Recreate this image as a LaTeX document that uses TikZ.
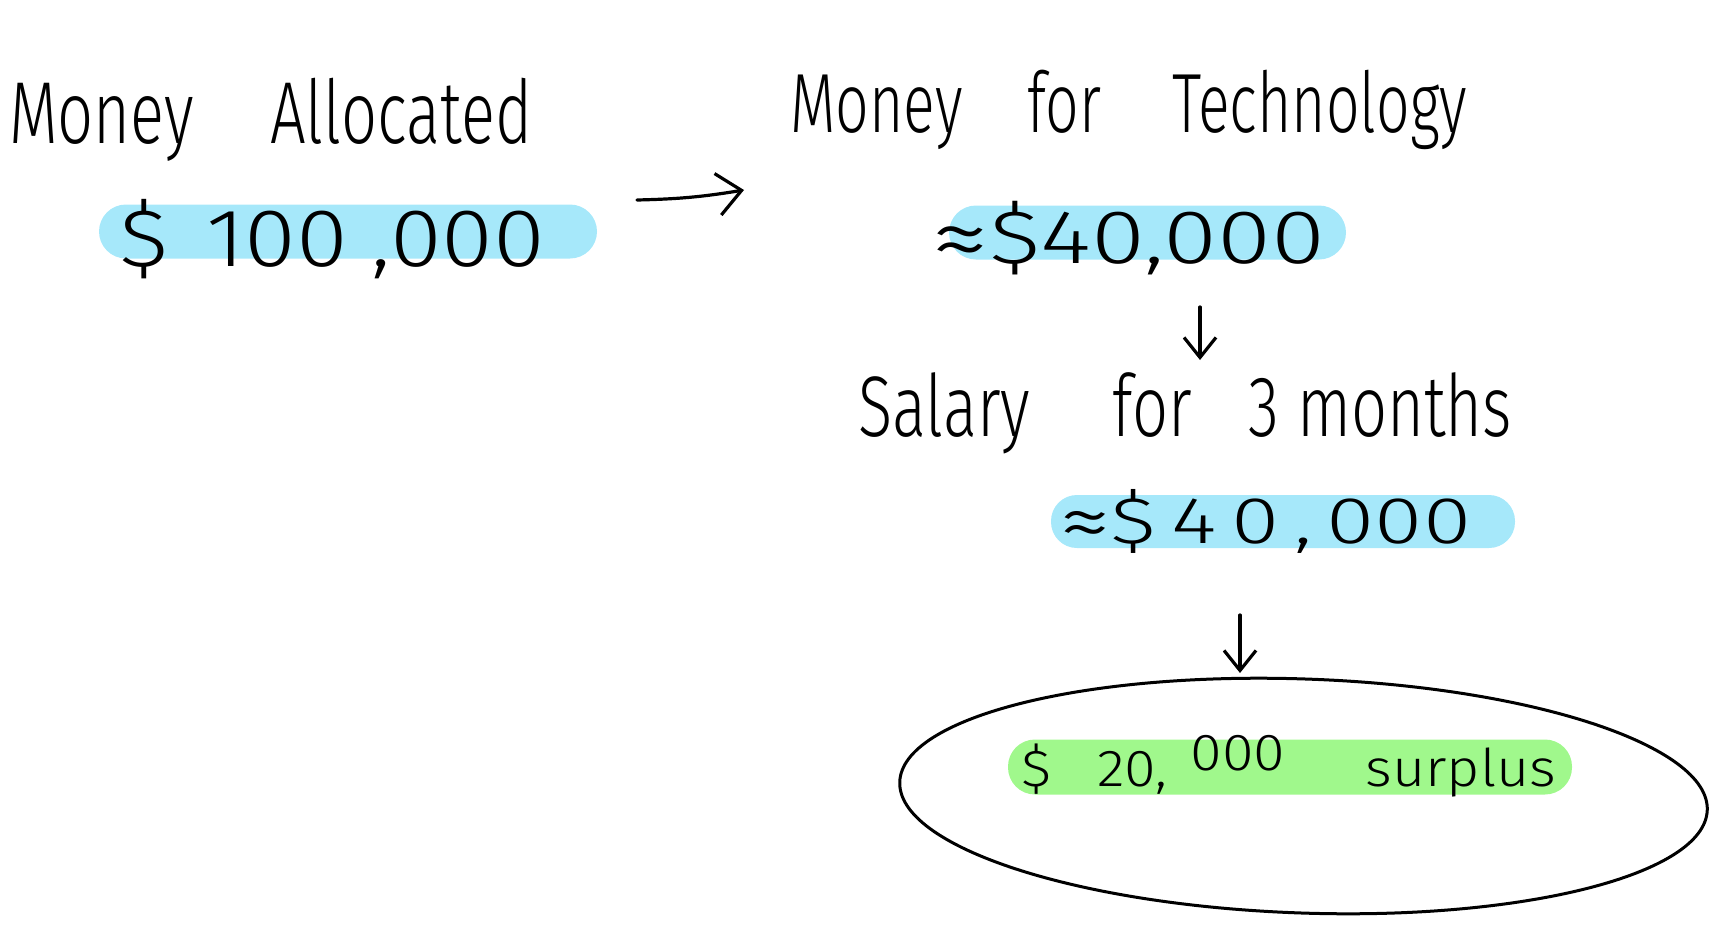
\documentclass[tikz,border=0pt]{standalone}
\usepackage{fontspec}
\setmainfont{Fira Sans}[UprightFont={* Light}]
\usetikzlibrary{arrows.meta,shapes.geometric}
\definecolor{barblue}{RGB}{166,232,250}
\definecolor{bargreen}{RGB}{160,248,140}
\newcommand{\fitw}[2]{\resizebox{#1pt}{\height}{#2}}
\newcommand{\apx}{\raisebox{-0.1em}{\scalebox{1.25}{≈}}}
\begin{document}
\begin{tikzpicture}[x=1pt,y=-1pt,
  bar/.style={rounded corners=27pt, inner sep=0pt, draw=none, minimum height=54pt},
  hand/.style={anchor=base west, inner sep=0pt, text=black},
  arr/.style={line width=3.2pt, line cap=round, line join=round,
    -{Straight Barb[length=20pt,width=32pt]}}]
\useasboundingbox (0,0) rectangle (1721,945);

% highlight bars
\node[bar, fill=barblue, minimum width=498pt] (bar1) at (348,231.5) {};
\node[bar, fill=barblue, minimum width=397pt] (bar2) at (1147.5,232.5) {};
\node[bar, fill=barblue, minimum width=464pt, minimum height=53pt, rounded corners=26pt] (bar3) at (1283,521.5) {};
\node[draw=black, line width=3pt, ellipse, inner sep=0pt, minimum width=808pt, minimum height=234pt, rotate=-2] (ring) at (1303.5,796) {};
\node[bar, fill=bargreen, minimum width=564pt, minimum height=55pt] (bar4) at (1290,767) {};

% labels
\node[hand, font=\fontsize{88}{90}\selectfont] (lalloc) at (9,143)
  {\fitw{523}{Money\hspace{1.2em}Allocated}};
\node[hand, font=\fontsize{84}{90}\selectfont] (ltech) at (790,132)
  {\fitw{677}{Money\hspace{1.1em}for\hspace{1.2em}Technology}};
\node[hand, font=\fontsize{86}{90}\selectfont] (lsal) at (858,436)
  {\fitw{654}{Salary\hspace{1.3em}for\hspace{0.9em}3 months}};

% amounts
\node[hand, font=\fontsize{82}{90}\selectfont] (amt1) at (119,266)
  {\fitw{426}{\$\hspace{0.4em}100\hspace{0.25em},000}};
\node[hand, font=\fontsize{76}{90}\selectfont] (amt2) at (931,263)
  {\fitw{394}{\apx\$40,000}};
\node[hand, font=\fontsize{66}{80}\selectfont] (amt3) at (1059,543)
  {\fitw{412}{\apx\$\,4\,0\,,\,000}};
\node[hand, font=\fontsize{52}{60}\selectfont] (amt4) at (1021,786)
  {\fitw{535}{\$\hspace{0.8em}20,\hspace{0.4em}\raisebox{0.3em}{000}\hspace{1.4em}surplus}};

% connectors
\coordinate (a1s) at (637,200);
\coordinate (a1e) at (744,190);
\coordinate (a2s) at (1200,307);
\coordinate (a2e) at (1200,360);
\coordinate (a3s) at (1240,615);
\coordinate (a3e) at (1240,673);
\draw[arr, -{Straight Barb[length=24pt,width=42pt]}] (a1s) to[bend right=4] (a1e);
\draw[arr] (a2s) -- (a2e);
\draw[arr] (a3s) -- (a3e);
\end{tikzpicture}
\end{document}
